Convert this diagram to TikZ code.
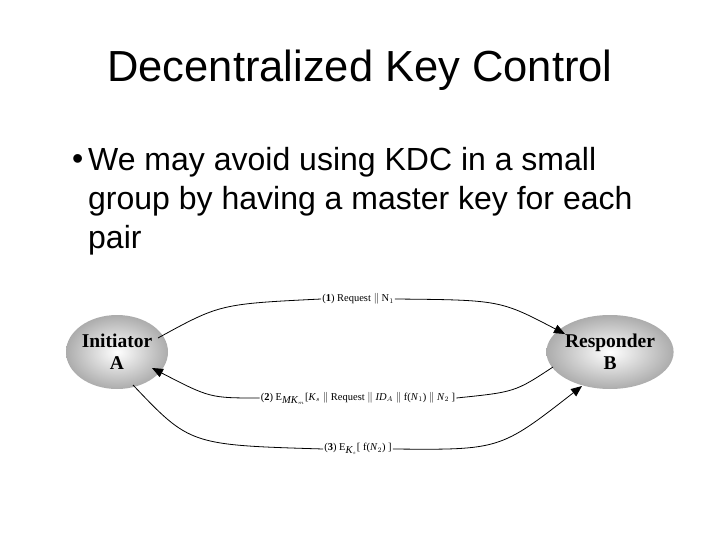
\documentclass[tikz,border=0pt]{standalone}
\usepackage{fontspec}
\setmainfont{Liberation Sans}
\newfontfamily\serifx{Liberation Serif}
\usetikzlibrary{shapes.geometric,arrows.meta}
\begin{document}
\begin{tikzpicture}[x=1pt,y=-1pt,
  party/.style={ellipse,minimum width=102pt,minimum height=74pt,inner sep=0pt,
    inner color=white,outer color=gray!65,font=\serifx\bfseries\fontsize{19.5}{22}\selectfont,align=center},
  msg/.style={font=\serifx\fontsize{10.5}{12}\selectfont,fill=white,inner sep=1pt},
  line/.style={anchor=west,font=\fontsize{32}{36}\selectfont,inner sep=0pt},
  conn/.style={thick,-{Triangle[length=11pt,width=9pt]}}]
\useasboundingbox (0,0) rectangle (720,540);
\node (title) at (360,70) {\fontsize{43.5}{48}\selectfont Decentralized Key Control};
\node[line] (bul) at (72,162) {•};
\node[line] (l1) at (88,162) {We may avoid using KDC in a small};
\node[line] (l2) at (88,201) {group by having a master key for each};
\node[line] (l3) at (88,240) {pair};
\node[party] (A) at (117,352) {Initiator\\A};
\node[party] (B) at (610,352) {Responder\\B};
\coordinate (a1) at (158,338);
\coordinate (b1) at (565,334);
\coordinate (b2) at (553,367);
\coordinate (a2) at (152,368);
\coordinate (a3) at (133,385);
\coordinate (b3) at (582,386);
\node[msg] (m1) at (358,299) {(\textbf{1}) Request $\Vert$ N$_1$};
\node[msg] (m2) at (358,398) {(\textbf{2}) E$_{\textit{MK}_m}$[\textit{K}$_s$ $\Vert$ Request $\Vert$ \textit{ID}$_A$ $\Vert$ f(\textit{N}$_1$) $\Vert$ \textit{N}$_2$ ]};
\node[msg] (m3) at (358,449) {(\textbf{3}) E$_{\textit{K}_s}$[ f(\textit{N}$_2$) ]};
\draw[thick] (a1) .. controls (220,304) .. (m1.west);
\draw[conn] (m1.east) .. controls (500,300) .. (b1);
\draw[thick] (b2) .. controls (515,392) .. (m2.east);
\draw[conn] (m2.west) .. controls (210,398) .. (a2);
\draw[thick] (a3) .. controls (190,445) .. (m3.west);
\draw[conn] (m3.east) .. controls (500,450) .. (b3);
\end{tikzpicture}
\end{document}
